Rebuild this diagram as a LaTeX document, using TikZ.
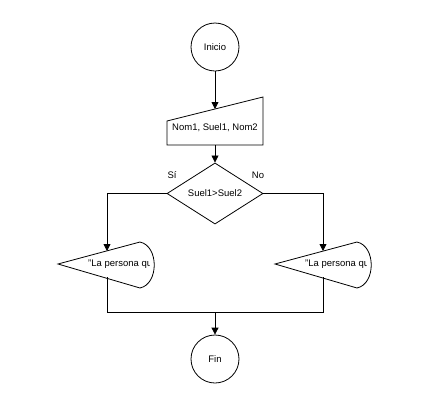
\documentclass[tikz,border=0pt]{standalone}
\usepackage{fontspec}
\setmainfont{Liberation Sans}
\usetikzlibrary{shapes.geometric,arrows.meta}

\tikzset{
  flow/.style={draw, line width=0.8pt},
  term/.style={circle, draw, line width=0.8pt, minimum size=48pt, inner sep=0pt},
  decide/.style={diamond, draw, line width=0.8pt, minimum width=96pt, minimum height=47pt, inner sep=0pt},
  conn/.style={line width=0.8pt, -{Triangle[width=7pt,length=7pt]}},
  wire/.style={line width=0.8pt},
  txt/.style={font=\fontsize{9.5}{11}\selectfont, inner sep=0pt}
}

\begin{document}
\begin{tikzpicture}[x=1pt,y=-1pt]
  \useasboundingbox (0,0) rectangle (440,408);

  % inicio / fin
  \node[term, txt] (ini) at (215,47) {Inicio};
  \node[term, txt] (fin) at (215,359) {Fin};

  % entrada manual
  \draw[flow] (167,121) -- (263,97) -- (263,145) -- (167,145) -- cycle;
  \node[txt] (inp) at (215,128) {Nom1, Suel1, Nom2};
  \coordinate (inp-top) at (215,109);
  \coordinate (inp-bot) at (215,145);

  % decision
  \node[decide, txt] (dec) at (215,193.5) {Suel1>Suel2};
  \node[txt] (si) at (172,175) {Sí};
  \node[txt] (no) at (258,175) {No};

  % salidas
  \draw[flow] (58,264) -- (140,242) .. controls (159,246) and (159,284) .. (140,288) -- cycle;
  \draw[flow] (275,264) -- (357,242) .. controls (376,246) and (376,284) .. (357,288) -- cycle;
  \begin{scope}
    \clip (80,250) rectangle (149.5,280);
    \node[txt, anchor=west] (outL) at (88,264.5) {"La persona que};
  \end{scope}
  \begin{scope}
    \clip (297,250) rectangle (366.5,280);
    \node[txt, anchor=west] (outR) at (305,264.5) {"La persona que};
  \end{scope}
  \coordinate (outL-top) at (107,251);
  \coordinate (outL-bot) at (107,277);
  \coordinate (outR-top) at (323,251);
  \coordinate (outR-bot) at (323,277);
  \coordinate (join) at (215,312);

  % conectores
  \draw[conn] (ini.south) -- (inp-top);
  \draw[conn] (inp-bot) -- (dec.north);
  \draw[conn] (dec.west) -| (outL-top);
  \draw[conn] (dec.east) -| (outR-top);
  \draw[wire] (outL-bot) |- (join);
  \draw[wire] (outR-bot) |- (join);
  \draw[conn] (join) -- (fin.north);
\end{tikzpicture}
\end{document}
